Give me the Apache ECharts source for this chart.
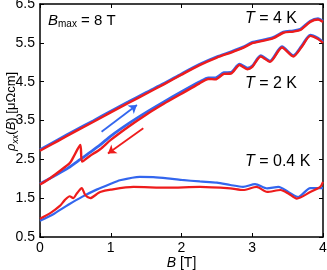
<!DOCTYPE html>
<html><head><meta charset="utf-8">
<script src="https://cdn.jsdelivr.net/npm/echarts@6/dist/echarts.min.js"></script>
<style>html,body{margin:0;padding:0;background:#fff}#c{width:327px;height:270px}</style>
</head><body><div id="c"></div>
<script>
// ---- tick labels ----
const xTicks = [0, 1, 2, 3, 4];
const yTicks = [0.5, 1.5, 2.5, 3.5, 4.5, 5.5, 6.5];

// ---- T = 4 K ----
const b4Up  = [0,0.25,0.5,0.75,1.0,1.25,1.5,1.75,2.0,2.25,2.5,2.7,2.87,3.0,3.15,3.3,3.44,3.58,3.68,3.82,3.93,4.0];
const rho4Up = [2.75,3.00,3.25,3.49,3.74,3.98,4.22,4.45,4.70,4.94,5.14,5.27,5.39,5.51,5.57,5.64,5.78,5.81,5.85,6.06,6.12,6.06];
const b4Dn  = [0,0.25,0.5,0.75,1.0,1.25,1.5,1.75,2.0,2.25,2.5,2.7,2.87,3.0,3.15,3.3,3.44,3.58,3.68,3.82,3.93,4.0];
const rho4Dn = [2.72,2.97,3.22,3.46,3.71,3.95,4.19,4.43,4.68,4.92,5.12,5.25,5.37,5.49,5.55,5.62,5.76,5.79,5.83,6.04,6.10,6.04];

// ---- T = 2 K ----
const b2Up  = [0,0.2,0.4,0.57,0.7,0.85,1.0,1.25,1.5,1.75,2.0,2.25,2.38,2.48,2.6,2.7,2.82,2.93,3.0,3.12,3.25,3.42,3.58,3.7,3.82,3.93,4.0];
const rho2Up = [1.87,2.07,2.28,2.50,2.67,2.87,3.10,3.42,3.71,3.98,4.24,4.49,4.60,4.60,4.73,4.74,4.95,4.85,4.90,5.17,5.03,5.40,5.17,5.42,5.70,5.62,5.52];
const b2Dn  = [0,0.15,0.28,0.42,0.47,0.57,0.595,0.7,0.85,1.0,1.25,1.5,1.75,2.0,2.25,2.38,2.48,2.6,2.7,2.82,2.93,3.0,3.12,3.25,3.42,3.58,3.7,3.82,3.93,4.0];
const rho2Dn = [1.85,2.02,2.20,2.40,2.55,2.87,2.44,2.58,2.76,3.00,3.34,3.65,3.93,4.19,4.45,4.57,4.56,4.70,4.71,4.93,4.82,4.88,5.15,5.01,5.38,5.15,5.40,5.68,5.60,5.50];

// ---- T = 0.4 K ----
const b04Up  = [0,0.2,0.4,0.6,0.8,1.0,1.13,1.41,1.6,1.8,2.0,2.26,2.5,2.69,2.87,3.04,3.21,3.37,3.51,3.65,3.82,4.0];
const rho04Up = [0.92,1.10,1.33,1.54,1.72,1.87,1.96,2.05,2.04,2.01,1.97,1.93,1.90,1.84,1.79,1.86,1.75,1.79,1.66,1.53,1.76,1.76];
const b04Dn  = [0,0.15,0.28,0.35,0.42,0.47,0.52,0.59,0.64,0.71,0.8,0.85,1.0,1.32,1.8,2.26,2.69,2.87,3.06,3.21,3.4,3.51,3.63,3.82,3.96,4.0];
const rho04Dn = [0.97,1.12,1.30,1.45,1.55,1.50,1.62,1.76,1.58,1.50,1.60,1.66,1.72,1.79,1.77,1.79,1.75,1.71,1.79,1.66,1.71,1.62,1.49,1.66,1.79,1.92];

// ---- sweep-direction arrows (data coordinates: [B, rho]) ----
const arrowUp = [[0.87, 3.21], [1.37, 3.90]];
const arrowDn = [[1.46, 3.30], [0.96, 2.65]];

const BLUE = '#3366ee';
const RED = '#ee1c1c';
const FONT = '"Liberation Sans", Arial, sans-serif';

const pairs = (bs, rs) => bs.map((b, i) => [b, rs[i]]);
const lineSeries = (name, bs, rs, color, w, z) => ({
  name, type: 'line', data: pairs(bs, rs), showSymbol: false, symbol: 'none',
  lineStyle: { color, width: w }, smooth: 0.25, z, xAxisIndex: 0, yAxisIndex: 0
});
const arrowSeries = (pts, color) => ({
  type: 'line', data: [], xAxisIndex: 0, yAxisIndex: 0,
  markLine: {
    silent: true, symbol: ['none', 'arrow'], symbolSize: 8,
    label: { show: false },
    lineStyle: { color, width: 1.8, type: 'solid' },
    itemStyle: { color },
    data: [[{ coord: pts[0] }, { coord: pts[1] }]]
  }
});

const axisCommon = {
  type: 'value',
  nameMoveOverlap: false,
  axisLine: { show: true, onZero: false, lineStyle: { color: '#000', width: 1.5 } },
  axisTick: { show: true, inside: true, length: 4, lineStyle: { color: '#000', width: 1 } },
  splitLine: { show: false }
};

const chart = echarts.init(document.getElementById('c'), null, { renderer: 'canvas' });
chart.setOption({
  animation: false,
  grid: { left: 40, right: 4, top: 4, bottom: 33, containLabel: false, outerBoundsMode: 'none' },
  xAxis: [
    Object.assign({}, axisCommon, {
      min: xTicks[0], max: xTicks[xTicks.length - 1], interval: 1, position: 'bottom',
      axisLabel: { color: '#000', fontSize: 14, fontFamily: FONT, margin: 4 },
      name: '{i|B} [T]', nameLocation: 'middle', nameGap: 19,
      nameTextStyle: { color: '#000', fontSize: 14, fontFamily: FONT,
        rich: { i: { fontStyle: 'italic', fontSize: 14, fontFamily: FONT, color: '#000' } } }
    }),
    Object.assign({}, axisCommon, {
      min: xTicks[0], max: xTicks[xTicks.length - 1], interval: 1, position: 'top',
      axisLabel: { show: false }
    })
  ],
  yAxis: [
    Object.assign({}, axisCommon, {
      min: yTicks[0], max: yTicks[yTicks.length - 1], position: 'left',
      axisTick: Object.assign({}, axisCommon.axisTick, { customValues: yTicks }),
      axisLabel: { color: '#000', fontSize: 14, fontFamily: FONT, margin: 5, customValues: yTicks,
        formatter: v => v.toFixed(1) },
      name: '{i|ρ}{s|xx}{n|(}{i|B}{n|) [μΩcm]}', nameLocation: 'middle', nameGap: 20, nameRotate: 90,
      nameTextStyle: { color: '#000', fontSize: 13, fontFamily: FONT, padding: [0, 0, 0, 18],
        rich: {
          i: { fontStyle: 'italic', fontSize: 13, lineHeight: 18, fontFamily: FONT, color: '#000' },
          n: { fontSize: 13, lineHeight: 18, fontFamily: FONT, color: '#000' },
          s: { fontStyle: 'italic', fontSize: 9, fontFamily: FONT, color: '#000', verticalAlign: 'bottom' }
        } }
    }),
    Object.assign({}, axisCommon, {
      min: yTicks[0], max: yTicks[yTicks.length - 1], position: 'right',
      axisTick: Object.assign({}, axisCommon.axisTick, { customValues: yTicks }),
      axisLabel: { show: false }
    })
  ],
  series: [
    lineSeries('4K up', b4Up, rho4Up, BLUE, 2.8, 2),
    lineSeries('2K up', b2Up, rho2Up, BLUE, 2.8, 2),
    lineSeries('0.4K up', b04Up, rho04Up, BLUE, 2.2, 2),
    lineSeries('4K down', b4Dn, rho4Dn, RED, 2.4, 3),
    lineSeries('2K down', b2Dn, rho2Dn, RED, 2.4, 3),
    lineSeries('0.4K down', b04Dn, rho04Dn, RED, 2.2, 3),
    arrowSeries(arrowUp, BLUE),
    arrowSeries(arrowDn, RED)
  ],
  graphic: [
    { type: 'text', left: 48, top: 13, z: 10, style: {
      text: '{i|B}{s|max}{n| = 8 T}', fill: '#000', font: '15px ' + FONT,
      rich: {
        i: { fontStyle: 'italic', fontSize: 15, lineHeight: 18, fontFamily: FONT, fill: '#000' },
        s: { fontSize: 10, fontFamily: FONT, fill: '#000', verticalAlign: 'bottom' },
        n: { fontSize: 15, lineHeight: 18, fontFamily: FONT, fill: '#000' }
      } } },
    { type: 'text', left: 245, top: 11, z: 10, style: {
      text: '{i|T}{n| = 4 K}', fill: '#000',
      rich: { i: { fontStyle: 'italic', fontSize: 16, fontFamily: FONT, fill: '#000' },
              n: { fontSize: 16, fontFamily: FONT, fill: '#000' } } } },
    { type: 'text', left: 245, top: 76, z: 10, style: {
      text: '{i|T}{n| = 2 K}', fill: '#000',
      rich: { i: { fontStyle: 'italic', fontSize: 16, fontFamily: FONT, fill: '#000' },
              n: { fontSize: 16, fontFamily: FONT, fill: '#000' } } } },
    { type: 'text', left: 245, top: 154, z: 10, style: {
      text: '{i|T}{n| = 0.4 K}', fill: '#000',
      rich: { i: { fontStyle: 'italic', fontSize: 16, fontFamily: FONT, fill: '#000' },
              n: { fontSize: 16, fontFamily: FONT, fill: '#000' } } } }
  ]
});
</script>
</body></html>
